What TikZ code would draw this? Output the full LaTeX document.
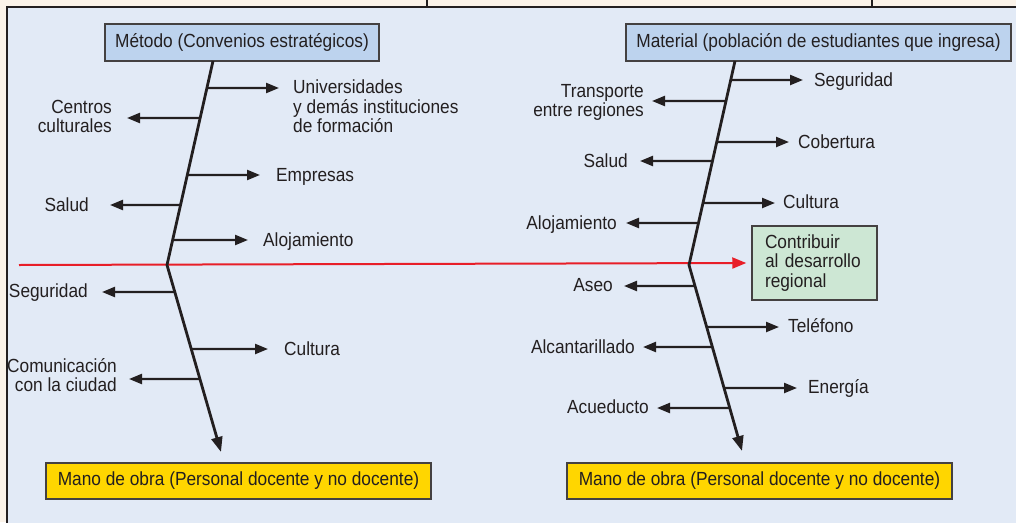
\documentclass[tikz,border=0pt]{standalone}
\usepackage{fontspec}
\setmainfont{Liberation Sans}[FakeStretch=0.91]
\usetikzlibrary{arrows.meta,calc}
\definecolor{cream}{RGB}{251,243,233}
\definecolor{panel}{RGB}{226,234,246}
\definecolor{boxblue}{RGB}{189,211,238}
\definecolor{boxgold}{RGB}{255,214,0}
\definecolor{boxgreen}{RGB}{205,231,212}
\definecolor{ink}{RGB}{35,31,32}
\definecolor{redline}{RGB}{232,30,40}
\begin{document}
\begin{tikzpicture}[x=1pt,y=-1pt,
  every node/.style={font=\fontsize{19}{19.5}\selectfont, text=ink},
  lbl/.style={inner sep=0pt},
  mlbl/.style={inner sep=0pt, align=left},
  mlblr/.style={inner sep=0pt, align=right},
  br/.style={draw=ink, line width=2.3pt, -{Triangle[length=13pt,width=10pt]}},
  spine/.style={draw=ink, line width=2.8pt, line join=miter},
  hbox/.style={draw=ink!85, line width=1.5pt, inner sep=0pt},
]
\useasboundingbox (0,0) rectangle (1016,522);
\clip (0,0) rectangle (1016,522);
% background
\fill[cream] (0,0) rectangle (1016,522);
\draw[ink, line width=1.2pt] (427,0) -- (427,7) (872,0) -- (872,7);
\filldraw[fill=panel, draw=ink, line width=1.5pt] (7,7) rectangle (1040,560);

% category boxes
\node[hbox, fill=boxblue, minimum width=274pt, minimum height=37pt] (mA) at (242,42.5) {Método (Convenios estratégicos)};
\node[hbox, fill=boxblue, minimum width=385pt, minimum height=37pt] (mB) at (818.5,42.5) {Material (población de estudiantes que ingresa)};
\node[hbox, fill=boxgold, minimum width=385pt, minimum height=36pt] (oA) at (238.5,481) {Mano de obra (Personal docente y no docente)};
\node[hbox, fill=boxgold, minimum width=385pt, minimum height=36pt] (oB) at (759.5,481) {Mano de obra (Personal docente y no docente)};
\node[hbox, fill=boxgreen, minimum width=125pt, minimum height=74pt, text width=99pt, align=left, inner xsep=13pt] (goal) at (814.5,263) {Contribuir\\al desarrollo\\regional};

% main red line
\coordinate (red0) at (19,265);
\draw[redline, line width=2pt, -{Triangle[length=14pt,width=11pt]}] (red0) -- ([xshift=-5pt]goal.west);

% left spine
\coordinate (LT) at (213,61);
\coordinate (LV) at (167,265);
\coordinate (LB) at (221,452);
\draw[spine, -{Triangle[length=15pt,width=11pt]}] (LT) -- (LV) -- (LB);
% right spine
\coordinate (RT) at (735,61);
\coordinate (RV) at (689,265);
\coordinate (RB) at (742,451);
\draw[spine, -{Triangle[length=15pt,width=11pt]}] (RT) -- (RV) -- (RB);

% ---- left fishbone, upper
\coordinate (a1) at ($(LT)!{(88-61)/204}!(LV)$);
\coordinate (ta1) at (279,88);
\draw[br] (a1) -- (ta1);
\node[mlbl, anchor=north west] (la1) at (293,80) {Universidades\\y demás instituciones\\de formación};

\coordinate (a2) at ($(LT)!{(118-61)/204}!(LV)$);
\coordinate (ta2) at (127,118);
\draw[br] (a2) -- (ta2);
\node[mlblr, anchor=north east] (la2) at (112,100) {Centros\\culturales};

\coordinate (a3) at ($(LT)!{(175-61)/204}!(LV)$);
\coordinate (ta3) at (260,175);
\draw[br] (a3) -- (ta3);
\node[lbl, anchor=base west] (la3) at (276,181) {Empresas};

\coordinate (a4) at ($(LT)!{(205-61)/204}!(LV)$);
\coordinate (ta4) at (110,205);
\draw[br] (a4) -- (ta4);
\node[lbl, anchor=base east] (la4) at (89,211) {Salud};

\coordinate (a5) at ($(LT)!{(240-61)/204}!(LV)$);
\coordinate (ta5) at (248,240);
\draw[br] (a5) -- (ta5);
\node[lbl, anchor=base west] (la5) at (263,246.5) {Alojamiento};

% ---- left fishbone, lower
\coordinate (a6) at ($(LV)!{(292-265)/187}!(LB)$);
\coordinate (ta6) at (102,292);
\draw[br] (a6) -- (ta6);
\node[lbl, anchor=base east] (la6) at (88,297.5) {Seguridad};

\coordinate (a7) at ($(LV)!{(349-265)/187}!(LB)$);
\coordinate (ta7) at (268,349);
\draw[br] (a7) -- (ta7);
\node[lbl, anchor=base west] (la7) at (284,355) {Cultura};

\coordinate (a8) at ($(LV)!{(379-265)/187}!(LB)$);
\coordinate (ta8) at (129,379);
\draw[br] (a8) -- (ta8);
\node[mlblr, anchor=north east] (la8) at (117,358) {Comunicación\\con la ciudad};

% ---- right fishbone, upper
\coordinate (b1) at ($(RT)!{(80-61)/204}!(RV)$);
\coordinate (tb1) at (803,80);
\draw[br] (b1) -- (tb1);
\node[lbl, anchor=base west] (lb1) at (814,86) {Seguridad};

\coordinate (b2) at ($(RT)!{(101-61)/204}!(RV)$);
\coordinate (tb2) at (652,101);
\draw[br] (b2) -- (tb2);
\node[mlblr, anchor=north east] (lb2) at (644,84) {Transporte\\entre regiones};

\coordinate (b3) at ($(RT)!{(142-61)/204}!(RV)$);
\coordinate (tb3) at (789,142);
\draw[br] (b3) -- (tb3);
\node[lbl, anchor=base west] (lb3) at (798,148) {Cobertura};

\coordinate (b4) at ($(RT)!{(161-61)/204}!(RV)$);
\coordinate (tb4) at (640,161);
\draw[br] (b4) -- (tb4);
\node[lbl, anchor=base east] (lb4) at (628,167) {Salud};

\coordinate (b5) at ($(RT)!{(203-61)/204}!(RV)$);
\coordinate (tb5) at (775,203);
\draw[br] (b5) -- (tb5);
\node[lbl, anchor=base west] (lb5) at (783,208) {Cultura};

\coordinate (b6) at ($(RT)!{(223-61)/204}!(RV)$);
\coordinate (tb6) at (626,223);
\draw[br] (b6) -- (tb6);
\node[lbl, anchor=base east] (lb6) at (617,229) {Alojamiento};

% ---- right fishbone, lower
\coordinate (b7) at ($(RV)!{(286-265)/186}!(RB)$);
\coordinate (tb7) at (624,286);
\draw[br] (b7) -- (tb7);
\node[lbl, anchor=base east] (lb7) at (613,291) {Aseo};

\coordinate (b8) at ($(RV)!{(327-265)/186}!(RB)$);
\coordinate (tb8) at (779,327);
\draw[br] (b8) -- (tb8);
\node[lbl, anchor=base west] (lb8) at (788,332) {Teléfono};

\coordinate (b9) at ($(RV)!{(347-265)/186}!(RB)$);
\coordinate (tb9) at (643,347);
\draw[br] (b9) -- (tb9);
\node[lbl, anchor=base east] (lb9) at (635,353) {Alcantarillado};

\coordinate (b10) at ($(RV)!{(388-265)/186}!(RB)$);
\coordinate (tb10) at (797,388);
\draw[br] (b10) -- (tb10);
\node[lbl, anchor=base west] (lb10) at (808,393) {Energía};

\coordinate (b11) at ($(RV)!{(408-265)/186}!(RB)$);
\coordinate (tb11) at (657,408);
\draw[br] (b11) -- (tb11);
\node[lbl, anchor=base east] (lb11) at (649,413) {Acueducto};
\end{tikzpicture}
\end{document}
